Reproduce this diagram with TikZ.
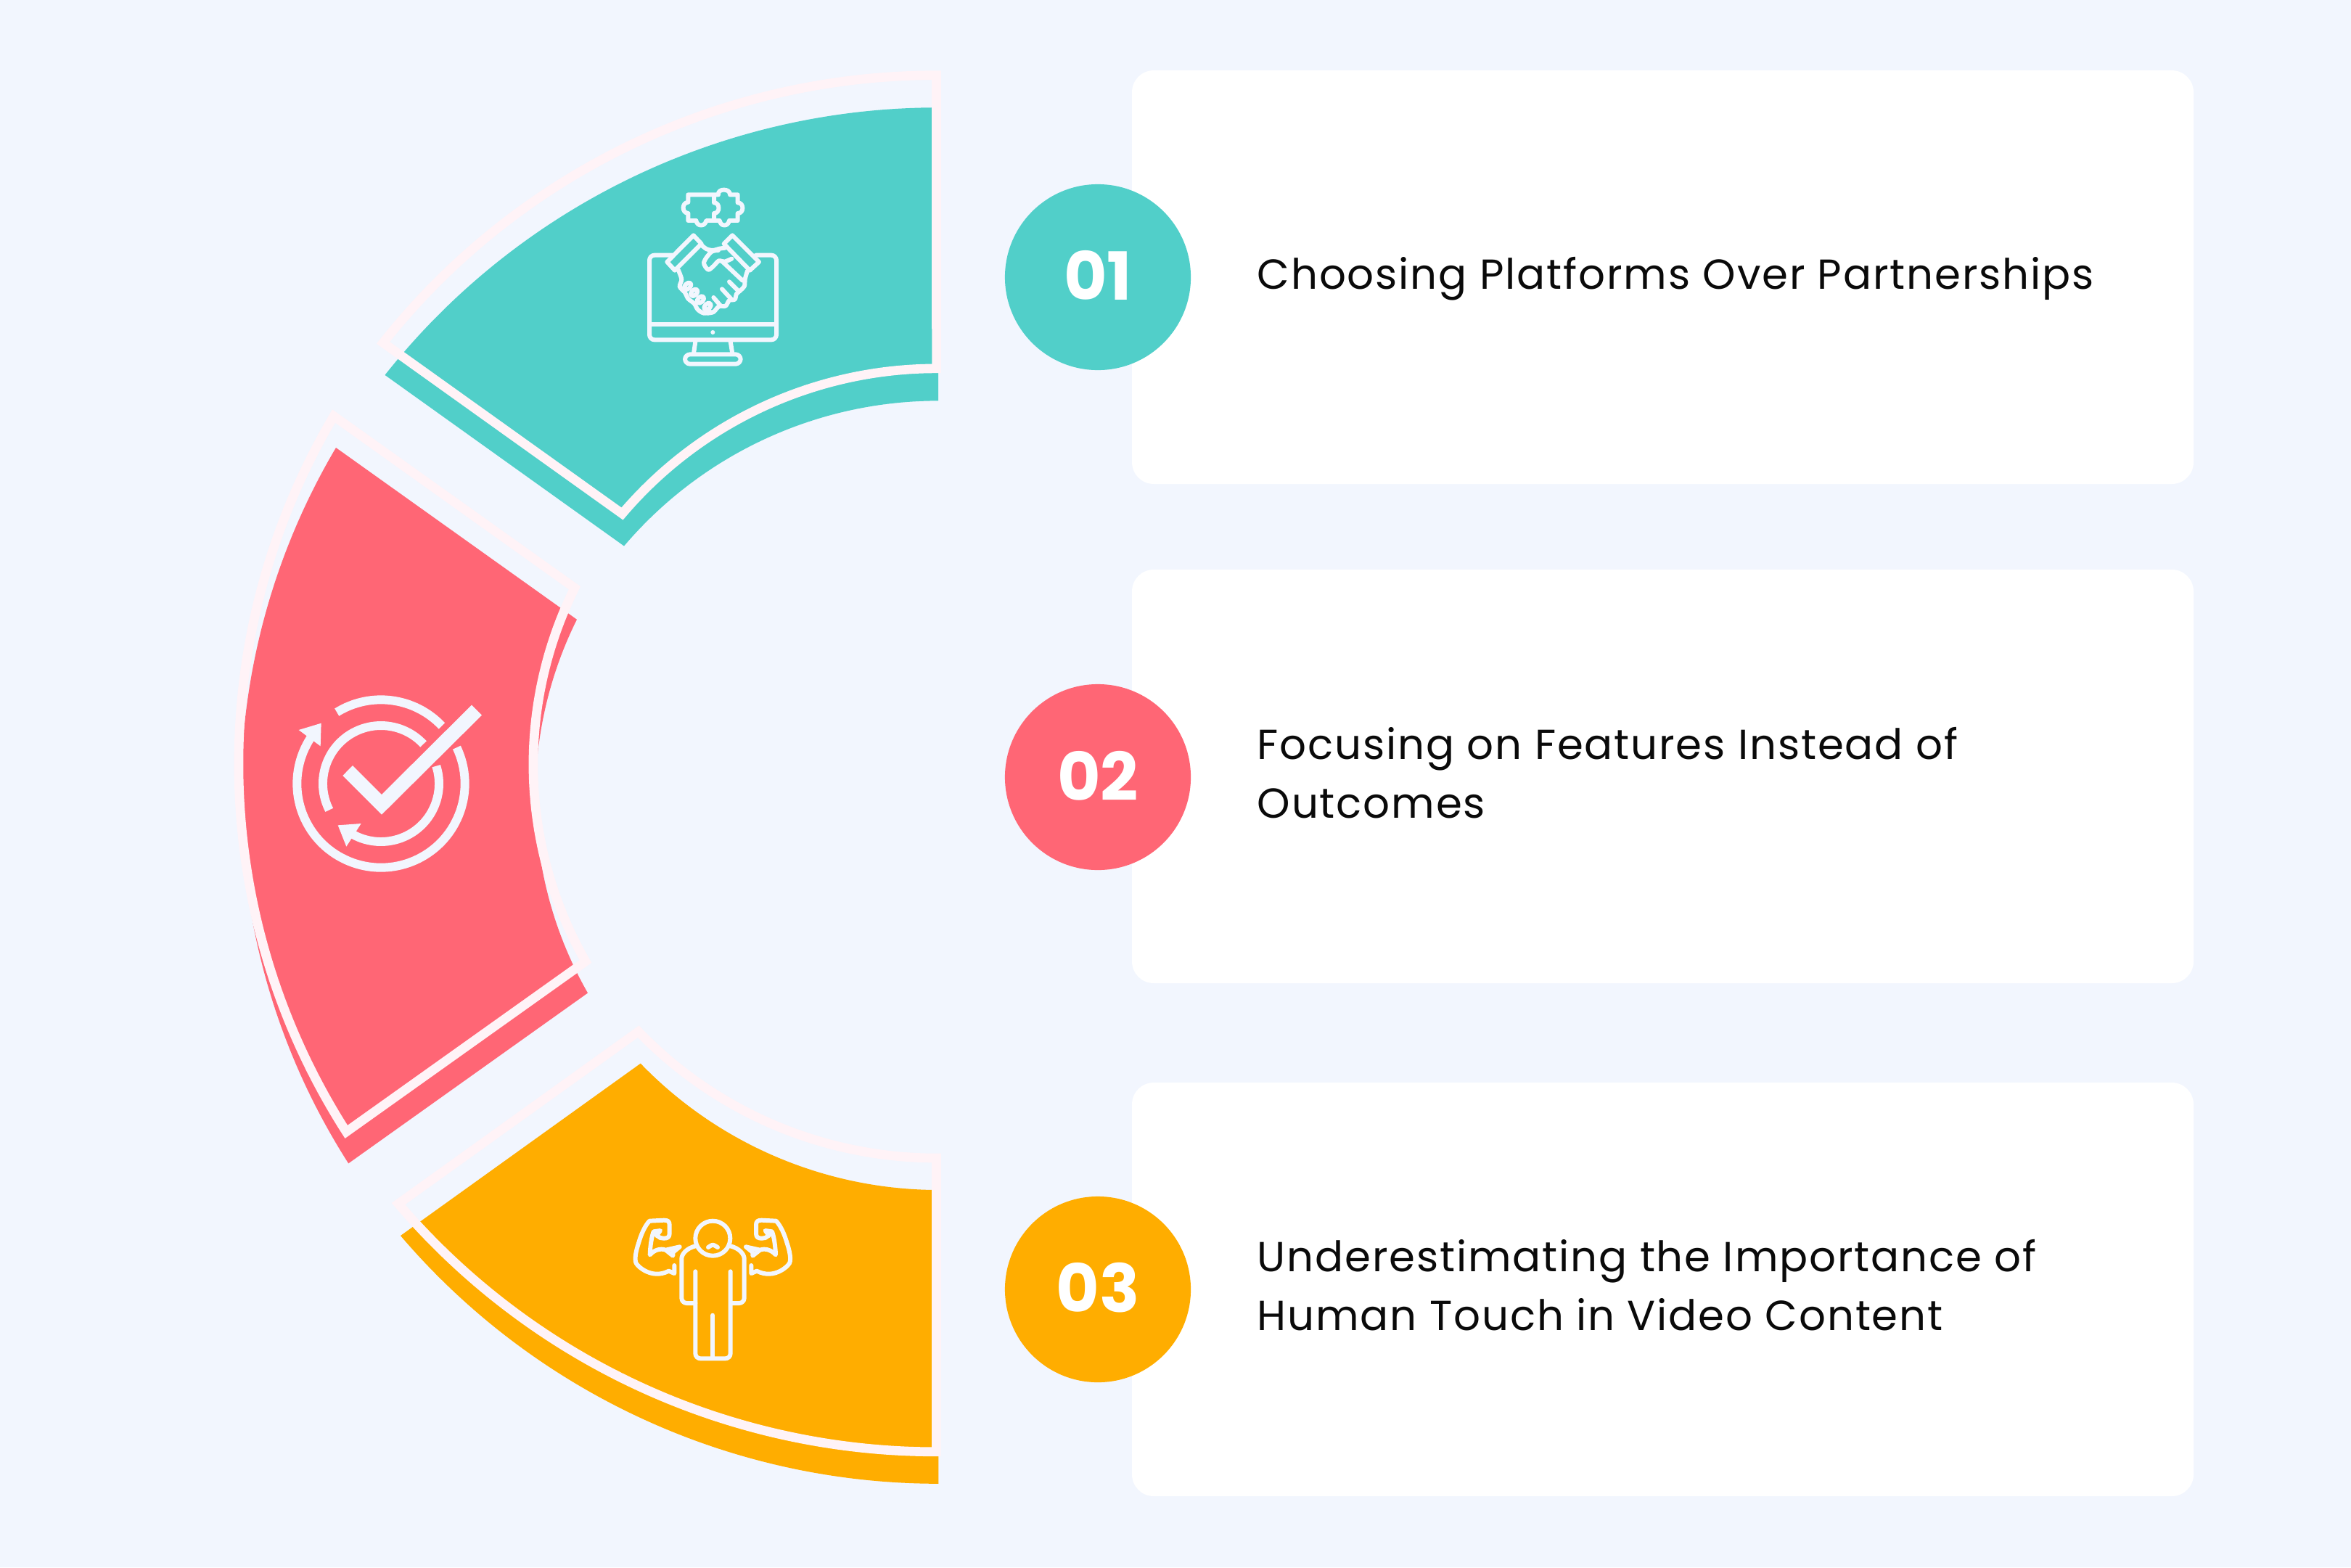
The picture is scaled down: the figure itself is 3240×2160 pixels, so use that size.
\documentclass[tikz,border=0pt]{standalone}
\usepackage{fontspec}
\setmainfont{Poppins}
\newfontfamily\bodyfont[LetterSpace=3.2]{Poppins}
\newfontfamily\numfont{Poppins Bold}
\definecolor{bgc}{HTML}{F2F6FE}
\definecolor{framec}{HTML}{FFF3F7}
\definecolor{tealc}{HTML}{51CFC9}
\definecolor{pinkc}{HTML}{FF6675}
\definecolor{orangec}{HTML}{FFAD00}
\definecolor{inkc}{HTML}{0A0A0A}
\tikzset{
  framestroke/.style={draw=framec,line width=3.6pt,miter limit=10},
  cardbox/.style={fill=white,rounded corners=0.3cm},
  badge/.style={circle,minimum size=2.56cm,inner sep=0pt,text=white,font=\numfont\fontsize{26}{26}\selectfont},
  bodytext/.style={anchor=west,align=left,text=inkc,inner sep=0pt,font=\bodyfont\fontsize{16.45}{23}\selectfont},
  iconline/.style={draw=bgc,line width=1.7pt,line cap=round,line join=round,fill=none},
  iconfill/.style={fill=bgc,draw=none},
  ringline/.style={draw=bgc,line width=3.4pt,fill=none},
}
\newcommand{\armshape}{%
  \draw[iconline] (298,312) -- (298,345) -- (275,335) .. controls (255,345) and (240,347) .. (225,347) .. controls (190,347) and (155,325) .. (140,303) .. controls (132,285) and (140,250) .. (150,220) .. controls (160,185) and (175,150) .. (195,128) -- (255,125) .. controls (272,125) and (278,130) .. (278,145) -- (278,180) .. controls (278,195) and (270,200) .. (255,200) -- (240,198) -- (225,188);
  \draw[iconline] (225,188) -- (240,168) -- (212,172) .. controls (205,190) and (198,230) .. (197,268) .. controls (215,248) and (240,240) .. (262,248) -- (320,235) -- (292,258) -- (292,272) -- (262,248);
}
\begin{document}
\begin{tikzpicture}[x=0.01cm,y=0.01cm,yscale=-1]
\useasboundingbox (0,0) rectangle (3240,2160);
\fill[bgc] (0,0) rectangle (3240,2160);
% cards
\fill[cardbox] (1560,97) rectangle (3023,667);
\fill[cardbox] (1560,785) rectangle (3023,1355);
\fill[cardbox] (1560,1492) rectangle (3023,2062);
% teal sector
\fill[tealc,shift={(2.5,44.5)}] (1290.5,103.7) arc[start angle=-90,end angle=-141.6,radius=973] -- (857.5,708) arc[start angle=-139.6,end angle=-90,radius=568.7] -- cycle;
\draw[framestroke] (1290.5,103.7) arc[start angle=-90,end angle=-141.6,radius=973] -- (857.5,708) arc[start angle=-139.6,end angle=-90,radius=568.7] -- cycle;
% pink sector
\fill[pinkc,shift={(3,43.5)}] (460,573.5) arc[start angle=210.6,end angle=147.4,radius=941.4] -- (807,1325) arc[start angle=150.25,end angle=206.4,radius=547.1] -- cycle;
\draw[framestroke] (460,573.5) arc[start angle=210.6,end angle=147.4,radius=941.4] -- (807,1325) arc[start angle=150.25,end angle=206.4,radius=547.1] -- cycle;
% orange sector
\fill[orangec,shift={(3,44)}] (1290.5,1596) arc[start angle=90,end angle=136,radius=571] -- (549,1659) arc[start angle=139.5,end angle=90,radius=975] -- cycle;
\draw[framestroke] (1290.5,1596) arc[start angle=90,end angle=136,radius=571] -- (549,1659) arc[start angle=139.5,end angle=90,radius=975] -- cycle;
% handshake icon
\begin{scope}[shift={(820,230)},scale=1/3]
\draw[iconline,rounded corners=2pt] (320,365) -- (225,365) -- (225,715) -- (750,715) -- (750,365) -- (665,365);
\draw[iconline] (225,652) -- (750,652);
\fill[bgc] (487,684) circle (9);
\draw[iconline] (415,722) -- (408,772);
\draw[iconline] (560,722) -- (568,772);
\draw[iconline,rounded corners=2pt] (372,775) rectangle (602,815);
\draw[iconline] (407,283) -- (440,318) -- (330,428) -- (298,393) -- cycle;
\draw[iconline] (568,283) -- (533,318) -- (640,428) -- (678,393) -- cycle;
\draw[iconline] plot[smooth] coordinates {(345,428) (358,465) (350,495) (372,520) (385,545) (410,565) (425,590) (450,605) (480,600)};
\foreach \cx/\cy in {383/493,410/520,436/549,465/577}{
  \draw[iconline,rotate around={-45:(\cx,\cy)}] (\cx,\cy) ellipse [x radius=17,y radius=11];
}
\draw[iconline] plot[smooth] coordinates {(442,325) (462,340) (487,345) (515,338) (538,335)};
\draw[iconline] plot[smooth] coordinates {(510,345) (480,352) (450,395) (468,425) (490,410) (512,388) (535,392) (565,380)};
\draw[iconline] (525,390) -- (610,470);
\draw[iconline] plot[smooth] coordinates {(630,430) (620,465) (618,492) (600,512) (585,525) (578,548) (555,552) (540,575) (512,577) (490,600) (465,605)};
\draw[iconline] (555,475) -- (592,512);
\draw[iconline] (525,505) -- (562,545);
\draw[iconline] (490,540) -- (520,575);
\draw[iconline] (385,115) -- (510,115) .. controls (505,88) and (560,88) .. (558,115) -- (590,115) -- (590,148) .. controls (617,148) and (617,192) .. (590,192) -- (590,222) -- (555,222) .. controls (550,248) and (520,248) .. (515,222) -- (460,222) .. controls (455,248) and (422,248) .. (418,222) -- (385,222) -- (385,192) .. controls (358,190) and (358,148) .. (385,146) -- cycle;
\draw[iconline] (492,118) -- (492,148) .. controls (518,148) and (518,192) .. (492,192) -- (492,222);
\end{scope}
% check icon
\begin{scope}[shift={(370,920)},scale=1/3]
\draw[ringline] (465,480) ++(-121.7:347) arc[start angle=-121.7,end angle=-43.5,radius=347];
\draw[ringline] (465,480) ++(-25.5:347) arc[start angle=-25.5,end angle=213,radius=347];
\fill[iconfill] (125,258) -- (218,230) -- (215,325) -- cycle;
\draw[ringline] (465,480) ++(153:240) arc[start angle=153,end angle=317,radius=240];
\draw[ringline] (465,480) ++(-17.7:240) arc[start angle=-17.7,end angle=122,radius=240];
\fill[iconfill] (287,652) -- (383,645) -- (322,740) -- cycle;
\fill[iconfill] (348,405) -- (468,525) -- (840,155) -- (882,197) -- (468,608) -- (307,447) -- cycle;
\end{scope}
% strong person icon
\begin{scope}[shift={(830,1640)},scale=1/3]
\draw[iconline] (457,200) circle (72);
\draw[iconline] plot[smooth] coordinates {(438,237) (457,227) (477,237)};
\draw[iconline,rounded corners=2pt] (385,232) .. controls (350,240) and (328,265) .. (328,305) -- (328,468) -- (385,468);
\draw[iconline,rounded corners=2pt] (530,232) .. controls (565,240) and (587,265) .. (587,305) -- (587,468) -- (532,468);
\draw[iconline,rounded corners=2pt] (385,337) -- (385,697) -- (530,697) -- (530,337);
\draw[iconline] (457,518) -- (457,690);
\armshape
\begin{scope}[shift={(914,0)},xscale=-1]
\armshape
\end{scope}
\end{scope}
% badges
\node[badge,fill=tealc] (n1) at (1513,382) {\raisebox{1.6pt}{01}};
\node[badge,fill=pinkc] (n2) at (1513,1071) {\raisebox{1.2pt}{02}};
\node[badge,fill=orangec] (n3) at (1513,1777) {\raisebox{1.8pt}{03}};
% texts
\node[bodytext,anchor=base west] (t1) at (1732,398) {Choosing Platforms Over Partnerships};
\node[bodytext] (t2) at (1732,1065) {Focusing on Features Instead of\\Outcomes};
\node[bodytext] (t3) at (1732,1771) {Underestimating the Importance of\\Human Touch in Video Content};
\end{tikzpicture}
\end{document}
